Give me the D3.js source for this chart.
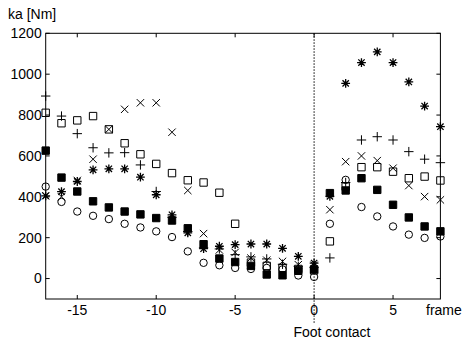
<!DOCTYPE html>
<html>
<head>
<meta charset="utf-8">
<script src="https://cdn.jsdelivr.net/npm/d3@7"></script>
<style>
  body { margin: 0; background: #fff; }
  svg { font-family: "Liberation Sans", Arial, sans-serif; }
</style>
</head>
<body>
<figure id="chart" style="margin:0"></figure>
<script>
const frames = d3.range(-17, 9);

// values per frame, -17 .. 8 (null = not shown)
const filledSquare = [626, 494, 426, 378, 348, 328, 314, 296, 284, 246, 168, 98, 81, 62, 20, 16, 38, 45,
  418, 431, 491, 434, 361, 299, 255, 231];
const openCircle = [450, 375, 328, 307, 291, 268, 250, 231, 203, 133, 77, 65, 52, 47, 52, 45, 15, 8,
  268, 483, 350, 304, 255, 215, 199, 206];
const openSquare = [811, 760, 774, 795, 730, 662, 608, 561, 516, 481, 470, 420, 268, 78, 62, 52, 47, 40,
  182, 450, 545, 545, 523, 491, 499, 480];
const xMark = [405, 400, 480, 584, 730, 828, 860, 860, 716, 431, 220, 140, 128, 100, 90, 84, 68, 65,
  337, 572, 600, 577, 540, 455, 401, 385];
const plusMark = [893, 795, 709, 640, 615, 616, 556, 426, 300, 230, 150, 145, 117, 106, 96, 70, 60, 55,
  101, 470, 678, 694, 678, 621, 584, 567];
const starMark = [405, 425, 475, 532, 537, 537, 496, 410, 312, 224, 146, 158, 166, 169, 169, 148, 109, 76,
  402, 955, 1057, 1109, 1057, 962, 844, 743];

const yTicks = [0, 200, 400, 600, 800, 1000, 1200];
const xTicks = [-15, -10, -5, 0, 5];

const width = 463, height = 345;
const x = d3.scaleLinear().domain([-17, 8]).range([45.7, 440.4]);
const y = d3.scaleLinear().domain([-100, 1200]).range([299, 33.3]);

const svg = d3.select("#chart").append("svg")
  .attr("width", width)
  .attr("height", height);

// marker shapes
const shapes = {
  square: s => `M${-s},${-s}H${s}V${s}H${-s}Z`,
  plus: s => `M${-s},0H${s}M0,${-s}V${s}`,
  cross: s => `M${-s},${-s}L${s},${s}M${-s},${s}L${s},${-s}`,
  star: s => {
    const d = s * 0.72;
    return `M${-s},0H${s}M0,${-s}V${s}M${-d},${-d}L${d},${d}M${-d},${d}L${d},${-d}`;
  }
};

const series = [
  { values: openSquare, kind: "square", fill: "none", size: 3.7 },
  { values: xMark, kind: "cross", fill: "none", size: 3.7 },
  { values: plusMark, kind: "plus", fill: "none", size: 4.7 },
  { values: starMark, kind: "star", fill: "none", size: 4.4, sw: 1.3 },
  { values: filledSquare, kind: "square", fill: "#000", size: 3.7 },
  { values: openCircle, kind: "circle", fill: "none", size: 3.7 }
];

// frame box
svg.append("rect")
  .attr("x", x(-17)).attr("y", y(1200))
  .attr("width", x(8) - x(-17)).attr("height", y(-100) - y(1200))
  .attr("fill", "none").attr("stroke", "#000").attr("stroke-width", 1);

// ticks (inward, all four sides)
const tk = 4;
const tg = svg.append("g").attr("stroke", "#000").attr("stroke-width", 1);
xTicks.forEach(t => {
  tg.append("line").attr("x1", x(t)).attr("x2", x(t)).attr("y1", y(-100)).attr("y2", y(-100) - tk);
  tg.append("line").attr("x1", x(t)).attr("x2", x(t)).attr("y1", y(1200)).attr("y2", y(1200) + tk);
});
yTicks.forEach(t => {
  tg.append("line").attr("x1", x(-17)).attr("x2", x(-17) + tk).attr("y1", y(t)).attr("y2", y(t));
  tg.append("line").attr("x1", x(8)).attr("x2", x(8) - tk).attr("y1", y(t)).attr("y2", y(t));
});

// tick labels
svg.append("g")
  .attr("font-size", 14).attr("text-anchor", "end")
  .selectAll("text").data(yTicks).join("text")
  .attr("x", x(-17) - 4).attr("y", d => y(d)).attr("dy", "0.35em")
  .text(d => d);

svg.append("g")
  .attr("font-size", 14).attr("text-anchor", "middle")
  .selectAll("text").data(xTicks).join("text")
  .attr("x", d => x(d)).attr("y", 315)
  .text(d => d);

svg.append("text").attr("x", 426).attr("y", 315).attr("font-size", 14).text("frame");
svg.append("text").attr("x", 332).attr("y", 337).attr("font-size", 14)
  .attr("text-anchor", "middle").text("Foot contact");
svg.append("text").attr("x", 8).attr("y", 19).attr("font-size", 14).text("ka [Nm]");

// foot contact line
svg.append("line")
  .attr("x1", x(0)).attr("x2", x(0)).attr("y1", y(1200)).attr("y2", 324)
  .attr("stroke", "#000").attr("stroke-width", 1).attr("stroke-dasharray", "1.5,1.5");

// markers
series.forEach(s => {
  const g = svg.append("g")
    .attr("stroke", "#000").attr("stroke-width", s.sw || 1).attr("fill", s.fill);
  const pts = frames.map((f, i) => [f, s.values[i]]).filter(p => p[1] != null);
  if (s.kind === "circle") {
    g.selectAll("circle").data(pts).join("circle")
      .attr("cx", d => x(d[0])).attr("cy", d => y(d[1])).attr("r", s.size);
  } else {
    g.selectAll("path").data(pts).join("path")
      .attr("transform", d => `translate(${x(d[0])},${y(d[1])})`)
      .attr("d", shapes[s.kind](s.size));
  }
});
</script>
</body>
</html>
